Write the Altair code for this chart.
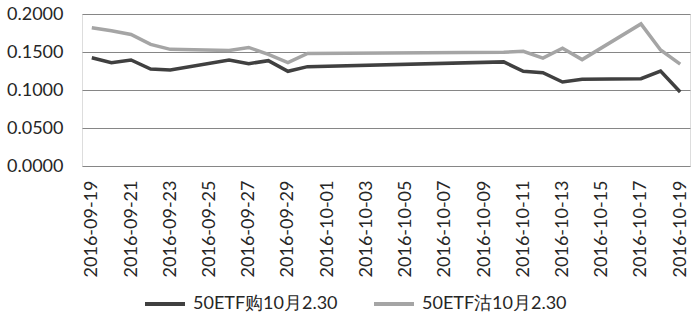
import altair as alt
import pandas as pd

dates = ["2016-09-19", "2016-09-20", "2016-09-21", "2016-09-22", "2016-09-23",
         "2016-09-26", "2016-09-27", "2016-09-28", "2016-09-29", "2016-09-30",
         "2016-10-10", "2016-10-11", "2016-10-12", "2016-10-13", "2016-10-14",
         "2016-10-17", "2016-10-18", "2016-10-19"]
call_vals = [0.1425, 0.1360, 0.1395, 0.1276, 0.1262,
             0.1395, 0.1346, 0.1386, 0.1246, 0.1307,
             0.1370, 0.1246, 0.1228, 0.1105, 0.1140,
             0.1149, 0.1250, 0.0974]
put_vals = [0.1820, 0.1780, 0.1730, 0.1600, 0.1535,
            0.1520, 0.1560, 0.1470, 0.1360, 0.1480,
            0.1496, 0.1510, 0.1420, 0.1550, 0.1400,
            0.1870, 0.1526, 0.1340]
series = ["50ETF购10月2.30", "50ETF沽10月2.30"]
colors = ["#404040", "#a5a5a5"]
tick_dates = ["2016-09-19", "2016-09-21", "2016-09-23", "2016-09-25", "2016-09-27",
              "2016-09-29", "2016-10-01", "2016-10-03", "2016-10-05", "2016-10-07",
              "2016-10-09", "2016-10-11", "2016-10-13", "2016-10-15", "2016-10-17",
              "2016-10-19"]
y_ticks = [0.0, 0.05, 0.10, 0.15, 0.20]

rows = []
for d, v in zip(dates, call_vals):
    rows.append({"date": d + "T00:00:00", "value": v, "series": series[0]})
for d, v in zip(dates, put_vals):
    rows.append({"date": d + "T00:00:00", "value": v, "series": series[1]})
df = pd.DataFrame(rows)

def dt(s, h=0):
    y, m, d = [int(p) for p in s.split("-")]
    return alt.DateTime(year=y, month=m, date=d, hours=h)

FONT = "Lato"

chart = alt.Chart(df).mark_line(strokeWidth=3.5).encode(
    x=alt.X("date:T",
            scale=alt.Scale(domain=[dt("2016-09-18", 12), dt("2016-10-19", 12)]),
            axis=alt.Axis(values=[dt(s) for s in tick_dates], format="%Y-%m-%d",
                          labelAngle=270, title=None, grid=False, ticks=False,
                          domain=False, labelFontSize=18, labelFont=FONT,
                          labelColor="#262626", labelPadding=14, labelOverlap=False)),
    y=alt.Y("value:Q",
            scale=alt.Scale(domain=[0, 0.2], nice=False),
            axis=alt.Axis(values=y_ticks, format=".4f", title=None, ticks=False,
                          domain=False, gridColor="#868686", gridWidth=1,
                          labelFontSize=18, labelFont=FONT, labelColor="#262626",
                          labelPadding=19)),
    color=alt.Color("series:N",
                    scale=alt.Scale(domain=series, range=colors),
                    legend=alt.Legend(orient="none", legendX=61, legendY=268,
                                      direction="horizontal", title=None,
                                      symbolType="stroke", symbolSize=1600,
                                      symbolStrokeWidth=4, labelFontSize=18,
                                      labelFont=FONT, labelColor="#262626",
                                      labelOffset=6, columnPadding=28,
                                      labelLimit=400)),
    order=alt.Order("date:T"),
).properties(
    width=608, height=152,
    autosize=alt.AutoSizeParams(type="none"),
    padding={"left": 82, "top": 14, "right": 9, "bottom": 158},
).configure_view(stroke=None).configure(background="white")

chart.save("out.html", embed_options={"renderer": "svg", "actions": False})
